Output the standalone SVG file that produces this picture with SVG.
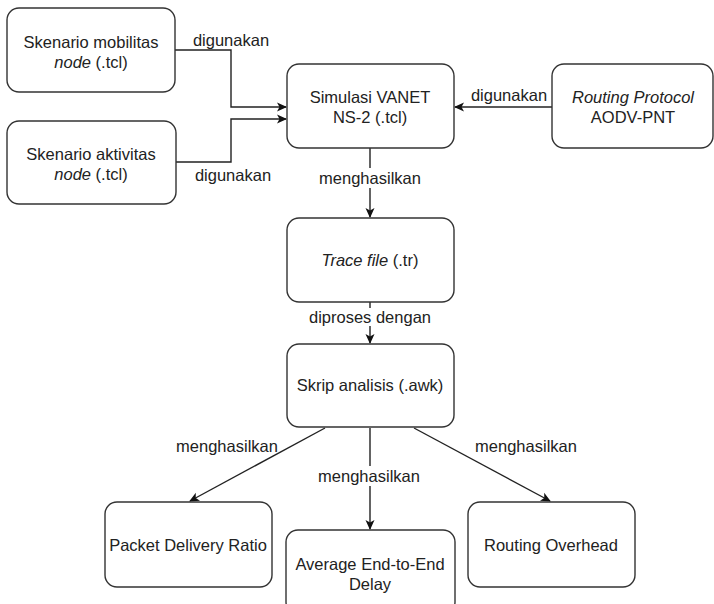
<svg xmlns="http://www.w3.org/2000/svg" width="714" height="604" viewBox="0 0 714 604">
<defs>
<style>
.box{fill:#fff;stroke:#333;stroke-width:1.4}
.t{font-family:"Liberation Sans",Arial,sans-serif;font-size:16.5px;fill:#222;text-anchor:middle}
.i{font-style:italic}
.e{fill:none;stroke:#222;stroke-width:1.4}
.lb{fill:#fff;stroke:none}
</style>
<marker id="arr" viewBox="0 0 10 10" refX="9" refY="5" markerWidth="10" markerHeight="10" markerUnits="userSpaceOnUse" orient="auto">
<path d="M0,0.5 L10,5 L0,9.5 L2.5,5 Z" fill="#111"/>
</marker>
</defs>
<rect width="714" height="604" fill="#fff"/>
<g id="connectors">
<path class="e" d="M175,50 H231 V107 H286" marker-end="url(#arr)"/>
<path class="e" d="M176,162 H231 V119 H286" marker-end="url(#arr)"/>
<path class="e" d="M552,107 H455" marker-end="url(#arr)"/>
<path class="e" d="M370,148 V217" marker-end="url(#arr)"/>
<path class="e" d="M370,302 V343" marker-end="url(#arr)"/>
<path class="e" d="M325,428 L190,501" marker-end="url(#arr)"/>
<path class="e" d="M370,428 V529" marker-end="url(#arr)"/>
<path class="e" d="M414,428 L550,501" marker-end="url(#arr)"/>
<text class="t" x="231" y="46">digunakan</text>
<text class="t" x="233" y="181">digunakan</text>
<text class="t" x="509" y="101">digunakan</text>
<rect class="lb" x="318" y="168" width="104" height="20"/>
<text class="t" x="370" y="184">menghasilkan</text>
<rect class="lb" x="310" y="308" width="120" height="18"/>
<text class="t" x="370" y="323">diproses dengan</text>
<text class="t" x="227" y="452">menghasilkan</text>
<rect class="lb" x="318" y="466" width="104" height="20"/>
<text class="t" x="369" y="482">menghasilkan</text>
<text class="t" x="526" y="452">menghasilkan</text>
</g>
<g id="n1">
<rect class="box" x="7" y="8" width="168" height="84" rx="12"/>
<text class="t" x="91" y="48">Skenario mobilitas</text>
<text class="t" x="91" y="68"><tspan class="i">node</tspan> (.tcl)</text>
</g>
<g id="n2">
<rect class="box" x="7" y="121" width="169" height="83" rx="12"/>
<text class="t" x="91" y="160">Skenario aktivitas</text>
<text class="t" x="91" y="180"><tspan class="i">node</tspan> (.tcl)</text>
</g>
<g id="n3">
<rect class="box" x="287" y="64" width="167" height="84" rx="12"/>
<text class="t" x="370" y="103">Simulasi VANET</text>
<text class="t" x="370" y="123">NS-2 (.tcl)</text>
</g>
<g id="n4">
<rect class="box" x="552" y="64" width="161" height="84" rx="12"/>
<text class="t" x="633" y="103"><tspan class="i">Routing Protocol</tspan></text>
<text class="t" x="633" y="123">AODV-PNT</text>
</g>
<g id="n5">
<rect class="box" x="287" y="218" width="167" height="84" rx="12"/>
<text class="t" x="370" y="266"><tspan class="i">Trace file</tspan> (.tr)</text>
</g>
<g id="n6">
<rect class="box" x="287" y="344" width="167" height="83" rx="12"/>
<text class="t" x="370" y="391">Skrip analisis (.awk)</text>
</g>
<g id="n7">
<rect class="box" x="105" y="502" width="167" height="85" rx="12"/>
<text class="t" x="188" y="551">Packet Delivery Ratio</text>
</g>
<g id="n8">
<rect class="box" x="286" y="530" width="169" height="84" rx="12"/>
<text class="t" x="370" y="570">Average End-to-End</text>
<text class="t" x="370" y="590">Delay</text>
</g>
<g id="n9">
<rect class="box" x="468" y="502" width="167" height="85" rx="12"/>
<text class="t" x="551" y="551">Routing Overhead</text>
</g>
</svg>
